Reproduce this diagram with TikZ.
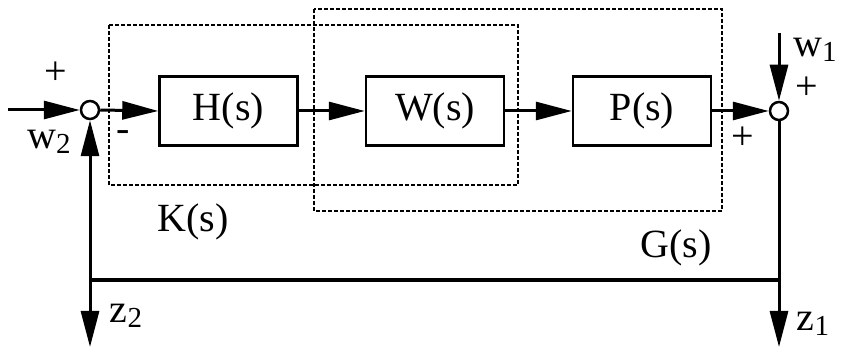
\documentclass[tikz,border=0pt]{standalone}
\usepackage{fontspec}
\setmainfont{Liberation Serif}
\usetikzlibrary{arrows.meta}
\newcommand{\lbsub}[2]{#1\raisebox{-0.3ex}{\fontsize{29}{29}\selectfont #2}}
\begin{document}
\begin{tikzpicture}[x=1pt,y=-1pt,
  sig/.style={line width=3pt,-{Triangle[length=36pt,width=18pt]}},
  plainline/.style={line width=3pt},
  blockbox/.style={draw,line width=2.5pt,rectangle,minimum width=138pt,minimum height=69pt,inner sep=0pt,font=\fontsize{40}{40}\selectfont},
  sumnode/.style={draw,circle,line width=2.5pt,minimum size=18pt,inner sep=0pt},
  groupbox/.style={draw,line width=2.3pt,dash pattern=on 4pt off 2pt},
  lbl/.style={inner sep=0pt,font=\fontsize{40}{40}\selectfont}]
\useasboundingbox (0,0) rectangle (841,347);
% dashed groups
\draw[groupbox] (109,25) rectangle (518,185);
\draw[groupbox] (314,9) rectangle (722,211);
% blocks
\node[blockbox] (H) at (228.5,111) {H(s)};
\node[blockbox] (W) at (435,111) {W(s)};
\node[blockbox] (P) at (642,111) {P(s)};
\node[sumnode] (s2) at (90,110) {};
\node[sumnode] (s1) at (779,111) {};
% coordinates
\coordinate (in2) at (8,110);
\coordinate (in1) at (779,33);
\coordinate (j2) at (90,280);
\coordinate (j1) at (779,280);
\coordinate (e2) at (90,347);
\coordinate (e1) at (779,347);
% signals
\draw[sig] (in2) -- (s2.west);
\draw[sig] (s2.east) -- (H.west);
\draw[sig] (H.east) -- (W.west);
\draw[sig] (W.east) -- (P.west);
\draw[sig] (P.east) -- (s1.west);
\draw[sig] (in1) -- (s1.north);
\draw[sig] (j2) -- (s2.south);
\draw[plainline,line width=3.5pt] (j2) -- (j1);
\draw[sig] (s1.south) -- (e1);
\draw[sig] (j2) -- (e2);
% labels
\node[lbl] (plusA) at (56,73) {+};
\node[lbl] (w2) at (49,142) {\lbsub{w}{2}};
\node[lbl] (minus) at (123,136) {-};
\node[lbl] (K) at (193,222) {K(s)};
\node[lbl] (G) at (676,248) {G(s)};
\node[lbl] (w1) at (815,50) {\lbsub{w}{1}};
\node[lbl] (plusB) at (807,88) {+};
\node[lbl] (plusC) at (743,138) {+};
\node[lbl] (z2) at (126,316) {\lbsub{z}{2}};
\node[lbl] (z1) at (813,324) {\lbsub{z}{1}};
\end{tikzpicture}
\end{document}
